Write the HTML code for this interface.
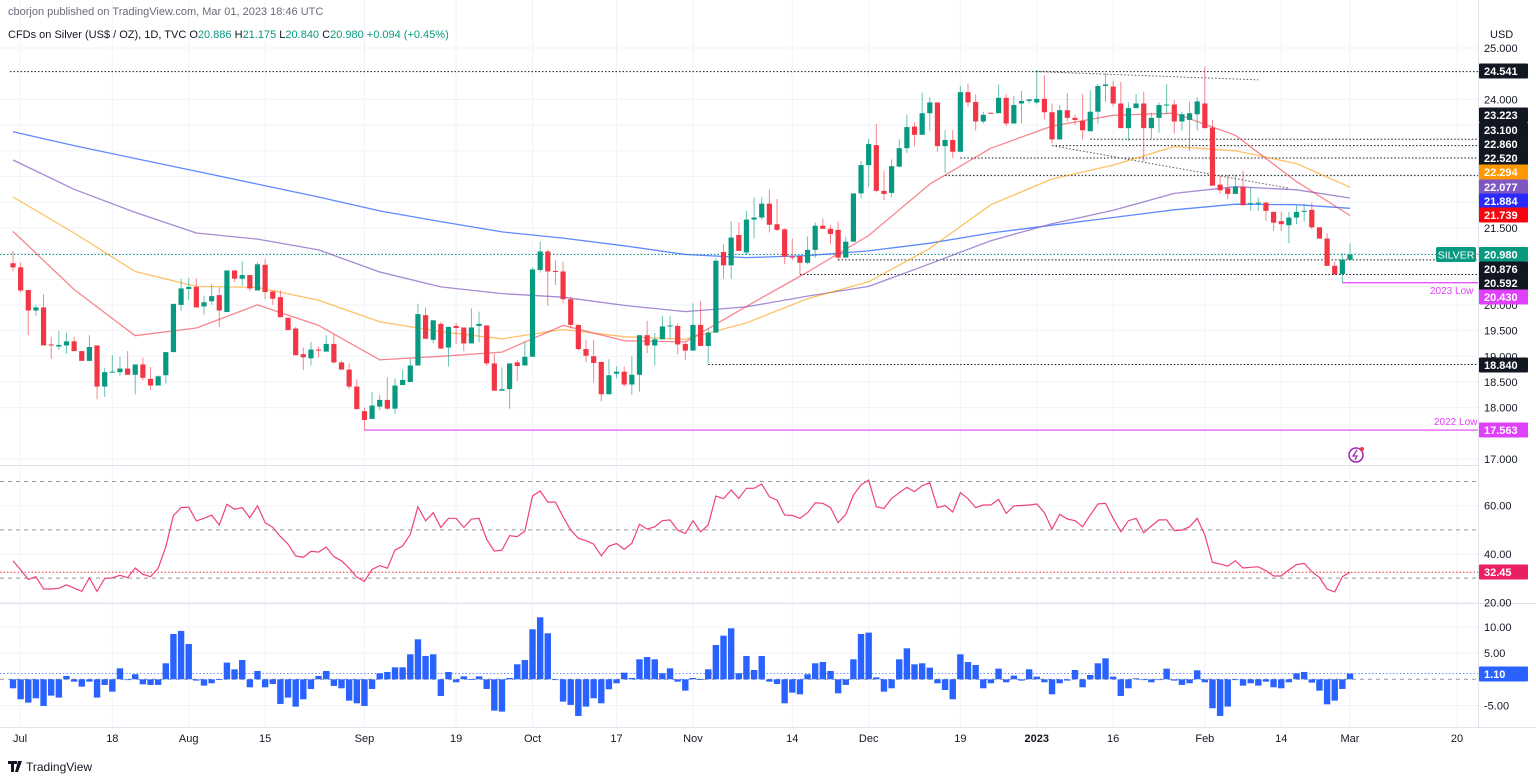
<!DOCTYPE html>
<html><head><meta charset="utf-8"><style>
html,body{margin:0;padding:0;background:#fff;}
svg{display:block;font-family:"Liberation Sans",sans-serif;}
</style></head><body>
<svg id="chart" width="1536" height="779" viewBox="0 0 1536 779" xmlns="http://www.w3.org/2000/svg">
<rect x="0" y="0" width="1536" height="779" fill="#fff"/>
<g id="grid"></g>
<g id="refs"></g>
<g id="mas"></g>
<g id="candles"></g>
<g id="rsi"></g>
<g id="hist"></g>
<line x1="0" y1="465.5" x2="1478" y2="465.5" stroke="#e0e3eb"/>
<line x1="0" y1="603.5" x2="1536" y2="603.5" stroke="#e0e3eb"/>
<line x1="1478.5" y1="0" x2="1478.5" y2="728" stroke="#e0e3eb"/>
<line x1="0" y1="727.5" x2="1536" y2="727.5" stroke="#e0e3eb"/>
<g id="axis" font-size="11" fill="#131722"></g>
<g id="xaxis" font-size="11" fill="#131722"></g>
<text x="8" y="15" font-size="11" fill="#6a6d78">cborjon published on TradingView.com, Mar 01, 2023 18:46 UTC</text>
<text x="8" y="38" font-size="11" fill="#131722">CFDs on Silver (US$ / OZ), 1D, TVC  <tspan fill="#131722">O</tspan><tspan fill="#089981">20.886</tspan> <tspan fill="#131722">H</tspan><tspan fill="#089981">21.175</tspan> <tspan fill="#131722">L</tspan><tspan fill="#089981">20.840</tspan> <tspan fill="#131722">C</tspan><tspan fill="#089981">20.980 +0.094 (+0.45%)</tspan></text>
<text x="1490" y="38" font-size="11" fill="#131722">USD</text>
<text x="1434" y="425" font-size="10" fill="#e040fb">2022 Low</text>
<text x="1430" y="294" font-size="10" fill="#e040fb">2023 Low</text>
<rect x="1436" y="247" width="40" height="15" rx="2" fill="#089981"/>
<text x="1456" y="258.5" font-size="10.5" fill="#fff" text-anchor="middle">SILVER</text>
<g><circle cx="1356" cy="455" r="7" fill="none" stroke="#9c27b0" stroke-width="1.5"/><path d="M1357 450 L1353 456 L1357 456 L1355 460" stroke="#9c27b0" fill="none" stroke-width="1.3"/><circle cx="1362" cy="449" r="2" fill="#f23645"/></g>
<g><path d="M8 761 h9 v3 h-3 v8 h-3 v-8 h-3z M18 761 h4 l-4 11 h-3z" fill="#131722"/><text x="26" y="771" font-size="12" fill="#131722">TradingView</text></g>
</svg>
<script>
// ---------- price data ----------
const opens=[20.81,20.73,20.29,19.89,19.95,19.23,19.19,19.21,19.29,19.10,18.91,19.21,18.41,18.69,18.69,18.76,18.64,18.84,18.56,18.43,18.63,19.08,20.00,20.31,20.35,19.97,20.07,20.19,19.86,20.67,20.51,20.58,20.28,20.78,20.26,20.15,19.75,19.54,19.04,18.96,19.13,19.09,19.24,18.88,18.74,18.41,17.93,17.78,
18.02,18.15,17.98,18.44,18.50,18.82,19.80,19.32,19.63,19.17,19.59,19.56,19.25,19.59,19.60,18.86,18.33,18.36,18.88,18.82,18.99,20.68,21.04,20.66,20.65,20.11,19.61,19.14,19.00,18.89,18.26,18.66,18.70,18.45,18.64,19.41,19.21,19.33,19.58,19.59,19.24,19.11,19.61,19.20,19.46,
21.03,20.77,21.36,21.02,21.66,21.70,21.97,21.57,21.47,20.94,20.95,20.82,21.07,21.54,21.48,21.46,20.92,21.23,22.17,22.72,23.11,22.22,22.18,22.69,23.05,23.47,23.31,23.73,23.94,23.09,23.21,22.98,24.14,23.95,23.57,23.74,23.73,24.03,23.53,23.92,23.97,23.94,24.01,23.75,23.22,23.79,23.64,23.58,23.38,
23.76,24.26,24.25,23.92,23.44,23.83,23.92,23.44,23.64,23.90,23.90,23.57,23.60,23.71,23.92,23.45,22.34,22.27,22.16,22.30,21.97,21.97,21.99,21.81,21.63,21.55,21.70,21.81,21.85,21.51,21.29,20.76,20.60,20.88];
const highs=[21.05,20.83,20.29,20.00,20.21,19.38,19.49,19.46,19.38,19.10,19.41,19.21,18.77,19.02,18.99,19.10,18.84,18.97,18.79,18.63,19.08,20.02,20.50,20.52,20.52,20.18,20.40,20.34,20.67,20.67,20.85,20.58,20.83,20.89,20.28,20.28,19.75,19.57,19.17,19.28,19.19,19.41,19.43,18.91,18.86,18.55,18.00,18.30,
18.25,18.59,18.57,18.74,18.95,20.02,19.95,19.70,19.67,19.58,19.65,19.56,19.93,19.87,19.60,19.04,18.78,18.86,18.93,19.29,20.73,21.23,21.08,20.87,20.84,20.16,19.61,19.32,19.32,18.89,18.94,18.80,18.80,19.00,19.41,19.69,19.45,19.79,19.78,19.64,19.26,20.03,20.07,19.54,20.91,
21.18,21.63,21.61,21.83,22.09,22.09,22.25,22.06,21.49,21.29,20.95,21.33,21.60,21.68,21.55,21.62,21.33,22.17,22.80,23.23,23.52,22.61,22.83,23.22,23.70,23.55,24.13,24.04,23.94,23.40,23.40,24.26,24.31,24.10,23.76,23.74,24.29,24.10,24.07,24.16,24.00,24.57,24.47,23.92,23.89,24.12,23.70,24.10,24.18,
24.30,24.51,24.36,24.34,23.94,24.10,24.15,23.74,23.94,24.30,23.99,23.76,23.95,24.04,24.64,23.60,22.51,22.53,22.54,22.61,22.29,22.09,22.01,21.81,21.81,21.81,21.94,21.97,21.99,21.51,21.39,20.84,21.00,21.20];
const lows=[20.65,20.24,19.41,19.79,19.21,18.95,19.13,19.05,19.10,18.91,18.91,18.16,18.21,18.69,18.62,18.64,18.26,18.53,18.34,18.43,18.47,19.08,19.88,20.09,19.95,19.81,20.00,19.57,19.86,20.45,20.37,20.27,20.28,20.11,20.00,19.76,19.50,19.02,18.73,18.82,18.98,19.09,18.86,18.74,18.37,17.97,17.56,17.78,
17.95,17.95,17.87,18.44,18.50,18.82,19.34,19.25,19.14,18.80,19.24,19.10,19.25,19.27,18.81,18.33,18.33,17.98,18.52,18.82,18.99,20.63,19.98,20.39,20.03,19.54,19.11,18.88,18.49,18.12,18.26,18.57,18.41,18.25,18.31,19.06,18.82,19.33,19.33,19.04,18.93,19.11,19.20,18.86,19.46,
20.51,20.51,21.05,20.99,21.29,21.66,21.41,21.44,20.79,20.87,20.59,20.79,20.92,21.48,21.18,20.87,20.92,21.23,22.07,22.30,22.19,22.04,22.10,22.69,22.96,23.09,23.31,23.39,22.98,22.57,22.86,22.98,23.86,23.39,23.53,23.73,23.73,23.48,23.53,23.53,23.92,23.90,23.61,23.14,23.22,23.57,23.50,23.22,23.38,
23.53,23.95,23.86,23.44,23.19,23.83,22.79,23.23,23.35,23.71,23.33,23.39,23.00,23.39,23.44,22.32,22.17,22.06,22.16,21.94,21.83,21.83,21.64,21.44,21.44,21.20,21.57,21.62,21.47,21.29,20.76,20.58,20.43,20.88];
const closes=[20.73,20.28,19.89,19.95,19.21,19.21,19.22,19.29,19.10,18.91,19.18,18.41,18.69,18.70,18.76,18.64,18.84,18.58,18.43,18.61,19.08,20.02,20.32,20.35,19.95,20.05,20.17,19.89,20.67,20.51,20.58,20.32,20.79,20.25,20.12,19.76,19.51,19.02,18.98,19.13,19.12,19.24,18.88,18.74,18.41,17.97,17.76,18.04,
18.15,17.98,18.43,18.54,18.82,19.82,19.34,19.70,19.15,19.57,19.55,19.25,19.56,19.63,18.86,18.33,18.36,18.86,18.81,18.99,20.69,21.04,20.65,20.65,20.11,19.61,19.14,19.01,18.87,18.26,18.63,18.70,18.45,18.64,19.41,19.21,19.33,19.58,19.60,19.23,19.11,19.61,19.20,19.46,20.86,
20.77,21.31,21.05,21.66,21.70,21.97,21.56,21.46,20.94,20.92,20.82,21.07,21.54,21.48,21.38,20.92,21.23,22.17,22.72,23.13,22.22,22.16,22.70,23.05,23.46,23.31,23.73,23.94,23.09,23.21,22.98,24.14,23.94,23.57,23.70,23.73,24.03,23.53,23.89,23.97,24.00,24.01,23.75,23.22,23.79,23.64,23.60,23.40,23.76,
24.26,24.29,23.92,23.44,23.83,23.92,23.44,23.64,23.89,23.90,23.57,23.71,23.73,23.96,23.44,22.32,22.23,22.16,22.30,21.94,21.98,21.99,21.83,21.60,21.57,21.70,21.81,21.83,21.51,21.29,20.76,20.60,20.88,20.98];
// moving averages sampled every 8 sessions
const maRed=[21.43,20.30,19.40,19.55,20.00,19.60,18.93,19.00,19.08,19.60,19.30,19.28,19.97,20.64,21.35,22.35,23.05,23.48,23.69,23.73,23.30,22.40,21.74];
const maOrange=[22.10,21.40,20.65,20.36,20.34,20.09,19.67,19.48,19.34,19.52,19.38,19.33,19.65,20.12,20.45,21.10,21.95,22.45,22.72,23.08,23.00,22.75,22.29];
const maPurple=[22.82,22.25,21.80,21.40,21.28,21.07,20.64,20.35,20.22,20.15,19.99,19.87,19.96,20.17,20.36,20.80,21.25,21.58,21.84,22.17,22.30,22.24,22.08];
const maBlue=[23.37,23.10,22.85,22.60,22.35,22.10,21.83,21.62,21.42,21.30,21.15,20.98,20.92,20.96,21.05,21.20,21.40,21.55,21.70,21.85,21.96,21.95,21.88];
// RSI
const rsiValues=[37.2,33.4,29.5,30.6,25.5,25.5,25.8,27.2,25.9,24.5,30.2,24.5,29.9,30.1,31.2,30.2,34.2,31.6,30.6,34.1,43.0,55.9,59.2,59.4,53.7,54.8,56.1,52.0,60.6,58.5,59.2,55.0,60.0,53.0,51.0,47.2,44.1,39.2,38.6,41.1,40.8,42.9,38.9,37.2,34.1,30.4,28.7,33.6,
35.2,34.1,41.6,43.3,48.1,59.6,53.7,57.1,51.0,54.8,54.8,51.0,54.4,54.8,46.1,41.2,41.6,47.6,47.2,49.5,64.0,66.1,61.5,61.5,55.4,49.9,46.5,45.5,44.1,39.2,43.3,44.3,41.9,44.4,52.3,50.3,51.3,53.8,54.1,49.9,48.5,53.8,49.2,52.0,64.0,62.9,66.5,63.0,67.2,
67.2,69.0,63.7,62.3,56.1,56.0,54.8,57.1,61.2,61.0,59.2,53.0,56.4,64.4,68.6,70.6,59.6,58.9,63.0,65.4,67.6,65.8,68.3,69.5,59.2,60.1,57.4,65.4,62.9,59.2,60.3,60.3,62.6,56.8,59.9,60.1,60.3,60.7,57.1,50.3,56.4,54.5,53.8,51.3,56.1,60.7,61.0,
54.8,49.2,53.8,54.8,48.8,51.6,54.1,54.1,49.7,49.9,51.3,54.8,47.9,36.5,35.8,35.0,37.2,34.2,34.5,34.7,33.1,30.9,30.9,33.4,35.6,36.1,32.7,30.3,25.5,24.3,30.6,32.45];
// histogram oscillator
const histValues=[-1.72,-3.82,-4.46,-3.63,-5.10,-3.12,-3.50,0.64,-0.45,-1.40,-0.45,-3.50,-1.08,-2.36,2.10,-0.13,0.96,-0.96,-1.08,-1.08,3.06,8.66,9.24,6.75,-0.25,-1.21,-0.76,0.05,3.19,1.91,3.69,-1.53,1.59,-1.53,-0.89,-4.71,-3.50,-5.22,-3.82,-1.85,0.64,1.59,-1.27,-1.72,-4.08,-4.59,-5.10,-1.85,
1.15,1.40,2.29,2.29,4.78,7.64,4.46,4.78,-3.19,1.40,-0.57,0.57,0.05,0.57,-1.85,-5.99,-6.18,0.25,2.87,3.69,9.56,11.85,8.79,-0.13,-4.27,-4.90,-7.01,-5.22,-3.63,-4.59,-1.91,-0.76,1.27,0.25,3.82,4.27,3.82,1.15,2.10,-0.45,-2.17,0.25,0.05,1.91,6.56,8.34,9.75,1.15,4.46,
1.78,4.46,-0.45,-0.89,-4.59,-2.55,-2.87,0.96,3.06,3.31,1.59,-2.68,-1.08,3.82,8.66,8.92,0.38,-2.36,-1.72,3.82,5.92,2.87,3.06,2.23,-0.76,-2.04,-3.82,4.78,3.31,2.74,-1.72,-0.76,2.04,-0.57,0.70,-0.25,1.91,0.51,-0.57,-2.87,-0.76,-0.25,1.78,-1.53,0.83,3.06,4.01,
0.51,-3.19,-1.72,0.19,0.00,-0.57,-0.13,2.04,-0.25,-1.08,-0.76,1.72,-0.57,-5.54,-7.01,-5.22,-0.13,-1.21,-0.76,-1.21,-0.45,-1.53,-1.72,-0.57,1.15,1.40,-0.64,-2.17,-4.78,-4.08,-1.85,1.10];
const priceTicks=["25.000","24.000","21.500","20.000","19.500","19.000","18.500","18.000","17.000"];
const rsiTicks=["60.00","40.00","20.00"];
const histTicks=["10.00","5.00","-5.00"];
const timeLabels=["Jul","18","Aug","15","Sep","19","Oct","17","Nov","14","Dec","19","2023","16","Feb","14","Mar","20"];
const timeIndex=[1,14,24,34,47,59,69,80,90,103,113,125,135,145,157,167,176,190];
const priceLevels=[24.541,23.223,23.100,22.860,22.520,20.876,20.592,18.840];
const levelStartIdx=[0,141,136,124,122,108,103,91];

// ---------- scales ----------
const NS="http://www.w3.org/2000/svg";
const xOf=i=>13+i*7.64;
const yP=p=>48+(25-p)*51.375;
const yR=v=>505.7+(60-v)*2.415;
const yH=v=>679.3-v*5.23;
function mk(tag,attrs,parent){const e=document.createElementNS(NS,tag);for(const k in attrs)e.setAttribute(k,attrs[k]);parent.appendChild(e);return e;}
const gGrid=document.getElementById('grid'),gRefs=document.getElementById('refs'),gMa=document.getElementById('mas'),gC=document.getElementById('candles'),gR=document.getElementById('rsi'),gH=document.getElementById('hist'),gAx=document.getElementById('axis'),gX=document.getElementById('xaxis');

// grid
for(const t of priceTicks){const l=mk('line',{x1:0,x2:1478,y1:yP(+t),y2:yP(+t),stroke:'#f0f3fa'},gGrid);

}
for(const p of [23.5,23,22.5,22,21,20.5]){const l=mk('line',{x1:0,x2:1478,y1:yP(p),y2:yP(p),stroke:'#f0f3fa'},gGrid);

}
for(const t of rsiTicks){const l=mk('line',{x1:0,x2:1478,y1:yR(+t),y2:yR(+t),stroke:'#f0f3fa'},gGrid);

}
for(const t of histTicks){const l=mk('line',{x1:0,x2:1478,y1:yH(+t),y2:yH(+t),stroke:'#f0f3fa'},gGrid);

}
timeIndex.forEach((ti,k)=>{const x=xOf(ti-1)+(k===0?7:0);const l=mk('line',{x1:x,x2:x,y1:0,y2:727,stroke:'#f0f3fa'},gGrid);


const t=mk('text',{x:x,y:742,'text-anchor':'middle','font-weight':timeLabels[k]==='2023'?'bold':'normal'},gX);t.textContent=timeLabels[k];

});

// reference lines
priceLevels.forEach((p,k)=>{const x0=k===0?10:xOf(levelStartIdx[k]);const l=mk('line',{x1:x0,x2:1478,y1:yP(p),y2:yP(p),stroke:'#131722','stroke-dasharray':'1.5 2','stroke-width':1},gRefs);

});
let l1=mk('line',{x1:xOf(134),y1:yP(24.541),x2:xOf(163),y2:yP(24.38),stroke:'#555','stroke-dasharray':'1.5 2'},gRefs);


let l2=mk('line',{x1:xOf(136),y1:yP(23.10),x2:xOf(167),y2:yP(22.27),stroke:'#555','stroke-dasharray':'1.5 2'},gRefs);


let l3=mk('line',{x1:xOf(46),x2:1478,y1:yP(17.563),y2:yP(17.563),stroke:'#e040fb','stroke-width':1.2},gRefs);


let l4=mk('line',{x1:xOf(174),x2:1478,y1:yP(20.43),y2:yP(20.43),stroke:'#e040fb','stroke-width':1.2},gRefs);


let l5=mk('line',{x1:0,x2:1478,y1:yP(20.98),y2:yP(20.98),stroke:'#089981','stroke-dasharray':'1.5 2'},gRefs);



// moving averages
function maPts(arr){return arr.map((v,k)=>xOf(Math.min(k*8,175)).toFixed(1)+','+yP(v).toFixed(1)).join(' ');}
[[maBlue,'rgba(41,98,255,0.75)','ma-200'],[maPurple,'rgba(149,117,205,0.85)','ma-100'],[maOrange,'rgba(255,152,0,0.6)','ma-50'],[maRed,'rgba(242,54,69,0.6)','ma-20']].forEach(([a,c,n])=>{
const pl=mk('polyline',{points:maPts(a),fill:'none',stroke:c,'stroke-width':1.3,'stroke-linejoin':'round'},gMa);

});

// candles
for(let i=0;i<opens.length;i++){const o=opens[i],h=highs[i],lo=lows[i],c=closes[i];const up=c>=o;const col=up?'#089981':'#f23645';const x=xOf(i);
const g=mk('g',{},gC);


mk('line',{x1:x,x2:x,y1:yP(h),y2:yP(lo),stroke:col,'stroke-opacity':0.6,'stroke-width':1},g);
const top=yP(Math.max(o,c)),bot=yP(Math.min(o,c));
mk('rect',{x:x-2.6,y:top,width:5.2,height:Math.max(1,bot-top),fill:col},g);}

// RSI pane
[70,50,30].forEach(v=>{const l=mk('line',{x1:0,x2:1478,y1:yR(v),y2:yR(v),stroke:'#9598a1','stroke-dasharray':'4 4'},gR);

});
const rsiLast=rsiValues[rsiValues.length-1];
let rl=mk('line',{x1:0,x2:1478,y1:yR(rsiLast),y2:yR(rsiLast),stroke:'#f23645','stroke-dasharray':'1.5 2'},gR);


let rp=mk('polyline',{points:rsiValues.map((v,i)=>xOf(i).toFixed(1)+','+yR(v).toFixed(1)).join(' '),fill:'none',stroke:'#f0427a','stroke-width':1.2},gR);



// histogram pane
let hz=mk('line',{x1:0,x2:1478,y1:yH(0),y2:yH(0),stroke:'#9598a1','stroke-dasharray':'4 4'},gH);


for(let i=0;i<histValues.length;i++){const v=histValues[i];const y0=yH(0),y1=yH(v);
const b=mk('rect',{x:xOf(i)-3.2,y:Math.min(y0,y1),width:6.4,height:Math.max(0.8,Math.abs(y1-y0)),fill:'#2962ff'},gH);

}
const hLast=histValues[histValues.length-1];
let hl=mk('line',{x1:0,x2:1478,y1:yH(hLast),y2:yH(hLast),stroke:'#2962ff','stroke-dasharray':'1.5 2','stroke-opacity':0.7},gH);



// axis labels
function axText(txt,y,color){const t=mk('text',{x:1484,y:y+4,fill:color||'#131722'},gAx);t.textContent=txt;

}
function axBox(txt,y,bg){const r=mk('rect',{x:1479,y:y-7.5,width:49,height:15,fill:bg,rx:1},gAx);


const t=mk('text',{x:1484,y:y+4,fill:'#fff','font-weight':'bold'},gAx);t.textContent=txt;

}
axText(priceTicks[0],yP(25));axText(priceTicks[1],yP(24));axText(priceTicks[2],yP(21.5));axText(priceTicks[3],yP(20));axText(priceTicks[4],yP(19.5));axText(priceTicks[5],yP(19));axText(priceTicks[6],yP(18.5));axText(priceTicks[7],yP(18));axText(priceTicks[8],yP(17));
axBox('24.541',71,'#131722');axBox('23.223',115,'#131722');axBox('23.100',130,'#131722');axBox('22.860',144,'#131722');axBox('22.520',158,'#131722');
axBox('22.294',172,'#ff9800');axBox('22.077',187,'#7e57c2');axBox('21.884',201,'#2a2aff');axBox('21.739',215,'#f7040f');
axBox('20.980',254.5,'#089981');axBox('20.876',269,'#131722');axBox('20.592',283,'#131722');axBox('20.430',297,'#e040fb');
axBox('18.840',365,'#131722');axBox('17.563',430,'#e040fb');
rsiTicks.forEach(t=>axText(t,yR(+t)));
axBox(rsiLast.toFixed(2),572,'#e91e63');
histTicks.forEach(t=>axText(t,yH(+t)));
axBox(hLast.toFixed(2),674,'#2962ff');
</script>
</body></html>
